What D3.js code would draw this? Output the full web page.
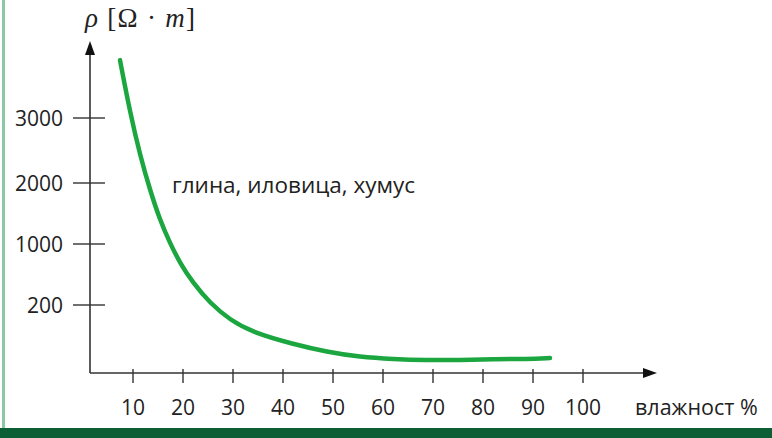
<!DOCTYPE html>
<html>
<head>
<meta charset="utf-8">
<script src="https://cdn.jsdelivr.net/npm/d3@7"></script>
<style>
  body { margin: 0; background: #fff; }
  svg { display: block; }
</style>
</head>
<body>
<svg id="chart" width="772" height="438"></svg>
<script>
// moisture (%) and resistivity (ohm*m)
var moisture = [7.4, 9.4, 11.4, 13.4, 15.4, 17.4, 19.4, 22, 25.4, 29.4, 34, 42, 48.8, 55.4, 62, 68.8, 75.4, 82, 88.8, 93.4];
var rho = [3890, 3090, 2430, 1885, 1390, 1015, 750, 490, 226, 156, 119, 85, 62, 47, 41, 38, 38, 41, 41, 44];

var xTicks = [10, 20, 30, 40, 50, 60, 70, 80, 90, 100];
var yTicks = [200, 1000, 2000, 3000];

var svg = d3.select("#chart");
var font = "'Open Sans', Lato, sans-serif";

// frame: light green left edge and dark green bottom band
svg.append("rect").attr("x", 2).attr("y", 0).attr("width", 3).attr("height", 430).attr("fill", "#8cc8a4");
svg.append("rect").attr("x", 0).attr("y", 428).attr("width", 772).attr("height", 10).attr("fill", "#0c5e34");

var x = d3.scaleLinear().domain([0, 100]).range([83, 583]);
// axis labels are not evenly spaced in value, so piecewise
var y = d3.scaleLinear().domain([0, 200, 1000, 2000, 3000]).range([373, 305, 244, 183, 118]);

var x0 = 90, y0 = 373;
var axisColor = "#333";

// axes
svg.append("line").attr("x1", x0).attr("y1", y0).attr("x2", x0).attr("y2", 52)
  .attr("stroke", axisColor).attr("stroke-width", 1.6);
svg.append("path").attr("d", "M" + x0 + ",41 L" + (x0 - 5) + ",55 L" + (x0 + 5) + ",55 Z").attr("fill", "#111");

svg.append("line").attr("x1", x0).attr("y1", y0).attr("x2", 646).attr("y2", y0)
  .attr("stroke", axisColor).attr("stroke-width", 1.6);
svg.append("path").attr("d", "M657," + y0 + " L643," + (y0 - 5) + " L643," + (y0 + 5) + " Z").attr("fill", "#111");

// y ticks
svg.selectAll(".ytick").data(yTicks).enter().append("line")
  .attr("x1", 73).attr("x2", 105)
  .attr("y1", function(d) { return y(d); }).attr("y2", function(d) { return y(d); })
  .attr("stroke", axisColor).attr("stroke-width", 1.4);
svg.selectAll(".ylab").data(yTicks).enter().append("text")
  .attr("x", 63).attr("y", function(d) { return y(d); })
  .attr("dy", "0.36em").attr("text-anchor", "end")
  .attr("font-family", font).attr("font-size", 21).attr("fill", "#222")
  .text(function(d) { return d; });

// x ticks
svg.selectAll(".xtick").data(xTicks).enter().append("line")
  .attr("x1", function(d) { return x(d); }).attr("x2", function(d) { return x(d); })
  .attr("y1", 369).attr("y2", 383)
  .attr("stroke", axisColor).attr("stroke-width", 1.4);
svg.selectAll(".xlab").data(xTicks).enter().append("text")
  .attr("x", function(d) { return x(d); }).attr("y", 407)
  .attr("dy", "0.36em").attr("text-anchor", "middle")
  .attr("font-family", font).attr("font-size", 21).attr("fill", "#222")
  .text(function(d) { return d; });

svg.append("text").attr("x", 635).attr("y", 407).attr("dy", "0.36em")
  .attr("font-family", font).attr("font-size", 21.5).attr("fill", "#222")
  .text("влажност %");

// y title
var title = svg.append("text").attr("x", 85).attr("y", 27)
  .attr("textLength", 110).attr("lengthAdjust", "spacing")
  .attr("font-family", "'Liberation Serif', 'DejaVu Serif', serif").attr("font-size", 27).attr("fill", "#222");
title.append("tspan").attr("font-style", "italic").text("ρ");
title.append("tspan").text(" [Ω · ");
title.append("tspan").attr("font-style", "italic").text("m");
title.append("tspan").text("]");

// curve
var pts = moisture.map(function(m, i) { return [m, rho[i]]; });
var line = d3.line()
  .x(function(d) { return x(d[0]); })
  .y(function(d) { return y(d[1]); })
  .curve(d3.curveBasis);

svg.append("path").datum(pts)
  .attr("d", line)
  .attr("fill", "none")
  .attr("stroke", "#1ca640")
  .attr("stroke-width", 4.5)
  .attr("stroke-linecap", "round");

svg.append("text").attr("x", 172).attr("y", 185).attr("dy", "0.36em")
  .attr("font-family", font).attr("font-size", 22.5).attr("fill", "#222")
  .text("глина, иловица, хумус");
</script>
</body>
</html>
